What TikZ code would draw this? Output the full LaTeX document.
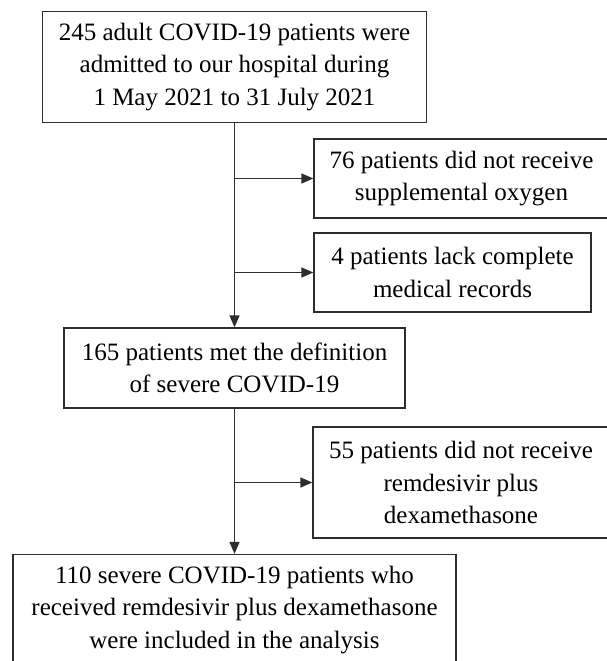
\documentclass[tikz,border=0pt]{standalone}
\usepackage{fontspec}
\setmainfont{Liberation Serif}
\usetikzlibrary{arrows.meta}
\definecolor{framegray}{RGB}{45,45,45}

\begin{document}
\begin{tikzpicture}[x=1pt, y=-1pt,
  box/.style={draw=framegray, line width=1.3pt, align=center, inner sep=0pt,
    font=\fontsize{25}{32.5}\selectfont},
  link/.style={draw=framegray, line width=1.3pt, -{Triangle[length=12pt, width=10pt]}}]

\useasboundingbox (0,0) rectangle (607,661);

\node[box, minimum width=384pt, minimum height=111pt] (admitted) at (234.5,67)
  {245 adult COVID-19 patients were\\ admitted to our hospital during\\ 1 May 2021 to 31 July 2021};
\node[box, minimum width=295pt, minimum height=79pt] (nooxygen) at (461.5,178.5)
  {76 patients did not receive\\ supplemental oxygen};
\node[box, minimum width=277pt, minimum height=79pt] (norecords) at (452.5,272.5)
  {4 patients lack complete\\ medical records};
\node[box, minimum width=341pt, minimum height=80pt] (severe) at (234.5,368)
  {165 patients met the definition\\ of severe COVID-19};
\node[box, minimum width=296pt, minimum height=111pt] (notreated) at (461,482.5)
  {55 patients did not receive\\ remdesivir plus\\ dexamethasone};
\node[box, minimum width=443pt, minimum height=111pt] (included) at (234.5,610)
  {110 severe COVID-19 patients who\\ received remdesivir plus dexamethasone\\ were included in the analysis};

% main flow
\draw[link] (admitted.south) -- (severe.north);
\draw[link] (severe.south) -- (included.north);

% exclusions
\coordinate (cut1) at (admitted.south |- nooxygen.west);
\coordinate (cut2) at (admitted.south |- norecords.west);
\coordinate (cut3) at (severe.south |- notreated.west);
\draw[link] (cut1) -- (nooxygen.west);
\draw[link] (cut2) -- (norecords.west);
\draw[link] (cut3) -- (notreated.west);
\end{tikzpicture}
\end{document}
